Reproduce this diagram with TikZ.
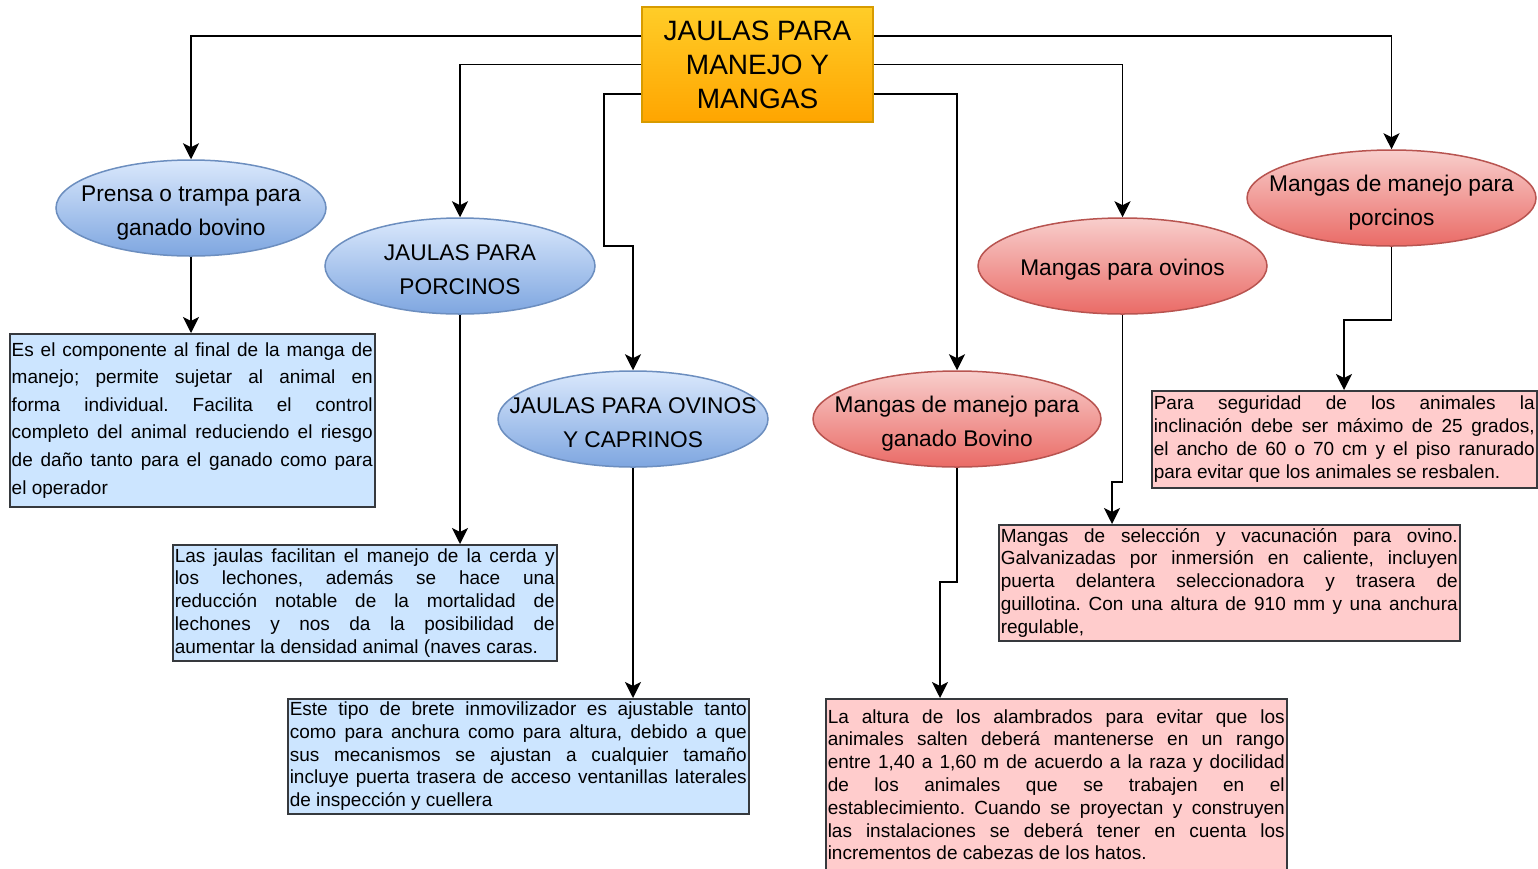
\documentclass[tikz,border=0pt]{standalone}
\usepackage{fontspec}
\setmainfont{Liberation Sans}
\usetikzlibrary{arrows.meta,shapes.geometric}
\definecolor{blueTop}{HTML}{DAE8FC}
\definecolor{blueBot}{HTML}{7EA6E0}
\definecolor{blueDraw}{HTML}{6C8EBF}
\definecolor{redTop}{HTML}{F8CECC}
\definecolor{redBot}{HTML}{EA6B66}
\definecolor{redDraw}{HTML}{B85450}
\definecolor{goldTop}{HTML}{FFCD28}
\definecolor{goldBot}{HTML}{FFA500}
\definecolor{goldDraw}{HTML}{D79B00}
\definecolor{boxBlue}{HTML}{CCE5FF}
\definecolor{boxPink}{HTML}{FFCCCC}
\definecolor{boxDraw}{HTML}{36393D}
\newlength\jw
\newcommand\jstart[1]{\setlength\jw{#1}\spaceskip=0pt\xspaceskip=0pt\frenchspacing}
\newcommand\jl[1]{\makebox[\jw][s]{#1}\\}
\begin{document}
\begin{tikzpicture}[x=1pt,y=-1pt,
  arr/.style={draw=black,line width=1.8pt,-{Stealth[length=16pt,width=16pt,inset=4pt]}},
  title/.style={draw=goldDraw,line width=1.5pt,top color=goldTop,bottom color=goldBot,
    minimum width=231pt,minimum height=115pt,inner sep=0pt,align=center,
    font=\fontsize{28}{34}\selectfont},
  ellb/.style={ellipse,draw=blueDraw,line width=1.5pt,top color=blueTop,bottom color=blueBot,
    minimum width=270pt,minimum height=96pt,inner sep=0pt},
  ellr/.style={ellipse,draw=redDraw,line width=1.5pt,top color=redTop,bottom color=redBot,
    minimum width=289pt,minimum height=96pt,inner sep=0pt},
  elltext/.style={align=center,inner sep=0pt,font=\fontsize{22.7}{34}\selectfont},
  txtbox/.style={draw=boxDraw,line width=1.5pt,anchor=north west,inner xsep=2pt,inner ysep=0pt,
    align=left,font=\fontsize{19}{22.8}\selectfont},
  bluebox/.style={txtbox,fill=boxBlue},
  pinkbox/.style={txtbox,fill=boxPink}]
\useasboundingbox (0,0) rectangle (1538,868);
\fill[white] (0,0) rectangle (1538,868);

% title
\node[title] (t) at (757.5,64.5) {JAULAS PARA\\MANEJO Y\\MANGAS};

% ellipses
\node[ellb] (e1) at (191,208) {};
\node[elltext] (e1t) at ([yshift=-5pt]e1.center) {Prensa o trampa para\\ganado bovino};
\node[ellb] (e2) at (460,266) {};
\node[elltext] (e2t) at ([yshift=-4pt]e2.center) {JAULAS PARA\\PORCINOS};
\node[ellb] (e3) at (633,419) {};
\node[elltext] (e3t) at ([yshift=-4pt]e3.center) {JAULAS PARA OVINOS\\Y CAPRINOS};
\node[ellr,minimum width=288pt] (e4) at (957,419) {};
\node[elltext] (e4t) at ([yshift=-5pt]e4.center) {Mangas de manejo para\\ganado Bovino};
\node[ellr] (e5) at (1122.5,266) {};
\node[elltext] (e5t) at ([yshift=-4pt]e5.center) {Mangas para ovinos};
\node[ellr] (e6) at (1391.5,198) {};
\node[elltext] (e6t) at ([yshift=-5pt]e6.center) {Mangas de manejo para\\porcinos};

% text boxes
\node[bluebox,font=\fontsize{19}{27.6}\selectfont,minimum width=365pt,minimum height=173pt,text width=361pt] (bA) at (9,333) {\jstart{361pt}%
\jl{Es el componente al final de la manga de}%
\jl{manejo; permite sujetar al animal en}%
\jl{forma individual. Facilita el control}%
\jl{completo del animal reduciendo el riesgo}%
\jl{de daño tanto para el ganado como para}%
el operador};

\node[bluebox,minimum width=384pt,minimum height=116pt,text width=380pt] (bB) at (172,544) {\jstart{380pt}%
\jl{Las jaulas facilitan el manejo de la cerda y}%
\jl{los lechones, además se hace una}%
\jl{reducción notable de la mortalidad de}%
\jl{lechones y nos da la posibilidad de}%
aumentar la densidad animal (naves caras.};

\node[bluebox,minimum width=461pt,minimum height=115pt,text width=457pt] (bC) at (287,698) {\jstart{457pt}%
\jl{Este tipo de brete inmovilizador es ajustable tanto}%
\jl{como para anchura como para altura, debido a que}%
\jl{sus mecanismos se ajustan a cualquier tamaño}%
\jl{incluye puerta trasera de acceso ventanillas laterales}%
de inspección y cuellera};

\node[pinkbox,minimum width=385pt,minimum height=97pt,text width=381pt] (bD) at (1151,390) {\jstart{381pt}%
\jl{Para seguridad de los animales la}%
\jl{inclinación debe ser máximo de 25 grados,}%
\jl{el ancho de 60 o 70 cm y el piso ranurado}%
para evitar que los animales se resbalen.};

\node[pinkbox,minimum width=461pt,minimum height=116pt,text width=457pt] (bE) at (998,524) {\jstart{457pt}%
\jl{Mangas de selección y vacunación para ovino.}%
\jl{Galvanizadas por inmersión en caliente, incluyen}%
\jl{puerta delantera seleccionadora y trasera de}%
\jl{guillotina. Con una altura de 910 mm y una anchura}%
regulable,};

\node[pinkbox,minimum width=461pt,minimum height=172pt,text width=457pt] (bF) at (825,698) {\jstart{457pt}%
\jl{La altura de los alambrados para evitar que los}%
\jl{animales salten deberá mantenerse en un rango}%
\jl{entre 1,40 a 1,60 m de acuerdo a la raza y docilidad}%
\jl{de los animales que se trabajen en el}%
\jl{establecimiento. Cuando se proyectan y construyen}%
\jl{las instalaciones se deberá tener en cuenta los}%
incrementos de cabezas de los hatos.};

% helper coordinates
\coordinate (c4) at (940,582);
\coordinate (c5) at (1112,482);
\coordinate (c6) at (1344,320);
\coordinate (c3) at (604,246);

% connectors from title
\draw[arr] ([yshift=28.5pt]t.west) -| (e1.north);
\draw[arr] (t.west) -| (e2.north);
\draw[arr] ([yshift=-29.5pt]t.west) -| (c3) -| (e3.north);
\draw[arr] ([yshift=28.5pt]t.east) -| (e6.north);
\draw[arr] (t.east) -| (e5.north);
\draw[arr] ([yshift=-29.5pt]t.east) -| (e4.north);

% connectors to boxes
\draw[arr] (e1.south) -- (e1.south |- bA.north);
\draw[arr] (e2.south) -- (e2.south |- bB.north);
\draw[arr] (e3.south) -- (e3.south |- bC.north);
\draw[arr] (e4.south) |- (c4) -- (bF.north -| c4);
\draw[arr] (e5.south) |- (c5) -- (bE.north -| c5);
\draw[arr] (e6.south) |- (c6) -- (bD.north -| c6);
\end{tikzpicture}
\end{document}
